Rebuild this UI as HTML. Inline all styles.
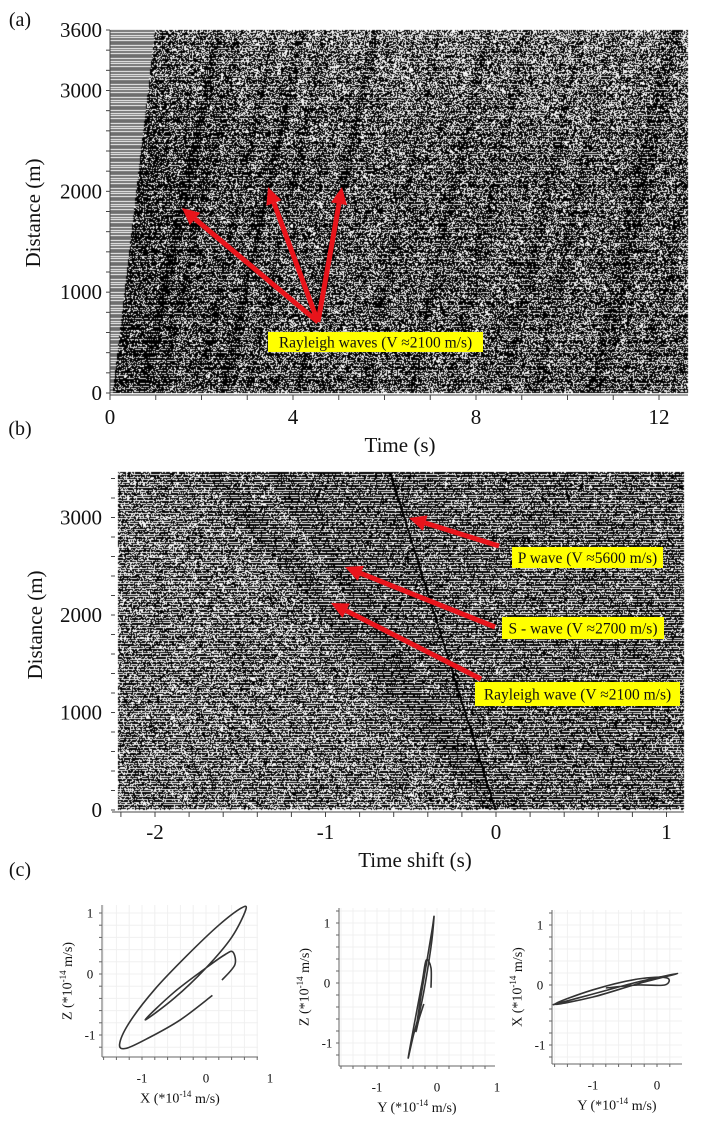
<!DOCTYPE html>
<html><head><meta charset="utf-8">
<style>
html,body{margin:0;padding:0;background:#fff;}
#wrap{position:relative;width:718px;height:1126px;overflow:hidden;background:#fff;}
canvas{position:absolute;left:0;top:0;}
svg{position:absolute;left:0;top:0;}
text{font-family:"Liberation Serif",serif;fill:#111;}
</style></head>
<body>
<div id="wrap">
<canvas id="cv" width="718" height="1126"></canvas>
<svg id="sv" width="718" height="1126" xmlns="http://www.w3.org/2000/svg"></svg>
</div>
<script>
// ---- data arrays ----
const aYTicks = [0, 1000, 2000, 3000, 3600];
const aXTicks = [0, 4, 8, 12];
const aStreakT0 = [0.69, 1.1, 1.9, 2.47, 3.0, 4.09, 5.5, 6.54, 7.4, 8.6, 9.3, 10.5, 10.7, 11.6];
const aStreakAmp = [1.0, 0.5, 0.5, 0.8, 0.5, 0.8, 0.4, 0.6, 0.4, 0.5, 0.4, 0.6, 0.6, 0.4];
const aFirstArrivalV = 3900;
const aRayleighV = 2100;
const bYTicks = [0, 1000, 2000, 3000];
const bXTicks = [-2, -1, 0, 1];
const bVelocities = [5600, 2700, 2100]; // P, S, Rayleigh
const bLabels = ["P wave (V \u22485600 m/s)", "S - wave (V \u22482700 m/s)", "Rayleigh wave (V \u22482100 m/s)"];
const c1 = [[0.1,-0.35],[-0.4,-0.75],[-0.9,-1.05],[-1.25,-1.22],[-1.35,-1.15],[-1.2,-0.8],[-0.8,-0.25],[-0.3,0.3],[0.2,0.8],[0.55,1.08],[0.62,1.05],[0.4,0.6],[0,0.1],[-0.5,-0.4],[-0.95,-0.75],[-0.5,-0.3],[0,0.1],[0.3,0.32],[0.42,0.36],[0.45,0.15],[0.25,-0.1]];
const c2 = [[-0.22,-0.35],[-0.3,-0.6],[-0.35,-0.8],[-0.28,-0.3],[-0.18,0.3],[-0.08,0.9],[-0.05,1.1],[-0.1,0.6],[-0.25,-0.3],[-0.4,-0.9],[-0.48,-1.25],[-0.4,-0.8],[-0.25,0.0],[-0.18,0.38],[-0.1,0.25],[-0.1,-0.08]];
const c3 = [[-1.63,-0.33],[-1,-0.15],[-0.3,0.05],[0.32,0.19],[-0.3,0.02],[-1.0,-0.2],[-1.6,-0.32],[-1.0,-0.08],[-0.3,0.1],[0.15,0.12],[0.12,0.0],[-0.3,0.0],[-0.8,-0.05]];
const cTicks = [-1, 0, 1];

// ---- scales ----
const A = {l:110, r:688, t:30, b:393, x:t=>110+t*45.75, y:d=>393-d*(363/3600)};
const B = {l:118, r:684, t:472, b:810, x:t=>496+t*170.5, y:d=>810-d*0.0975};

let seed = 12345;
function rnd(){seed|=0;seed=seed+0x6D2B79F5|0;let t=Math.imul(seed^seed>>>15,1|seed);t=t+Math.imul(t^t>>>7,61|t)^t;return((t^t>>>14)>>>0)/4294967296;}

const cv = document.getElementById('cv');
const ctx = cv.getContext('2d');
const img = ctx.createImageData(718,1126);
const D = img.data;
for(let i=0;i<D.length;i+=4){D[i]=D[i+1]=D[i+2]=255;D[i+3]=255;}
function setPx(x,y,v){const i=(y*718+x)*4;D[i]=D[i+1]=D[i+2]=v;}

// panel a texture
for(let Y=A.t;Y<A.b;Y++){
  const d=(A.b-Y)*3600/363;
  const ph=((Y-A.t)/2.6)%1;
  const gap=ph>0.62;
  const tFirst=0.05+d/aFirstArrivalV;
  for(let X=A.l;X<A.r;X++){
    const t=(X-A.l)/45.75;
    let v;
    if(t<tFirst){ v=gap?255:110; }
    else{
      let s=0;
      for(let k=0;k<aStreakT0.length;k++){const dt=(t-(aStreakT0[k]+d/aRayleighV))/0.09;s+=aStreakAmp[k]*Math.exp(-dt*dt);}
      let p=0.72+0.3*Math.min(1,s)+0.15*Math.exp(-(t-tFirst)/1.2)-0.15*Math.max(0,(d-2300)/1300);
      p=Math.min(0.98,p);
      v=gap?(rnd()<p*0.55?0:225):(rnd()<p?0:255);
    }
    setPx(X,Y,v);
  }
}
// panel b texture
for(let Y=B.t;Y<B.b;Y++){
  const d=(B.b-Y)/0.0975;
  const ph=((Y-B.t)/2.6)%1;
  const gap=ph>0.55;
  const tP=-d/bVelocities[0], tS=-d/bVelocities[1], tR=-d/bVelocities[2];
  for(let X=B.l;X<B.r;X++){
    const t=(X-496)/170.5;
    let p, solid=false;
    if(t<=tP+0.002 && t>tP-0.01){ p=1; solid=true; }
    else if(t>tP) p=0.85;
    else if(t>tS+0.04) p=0.8+0.18*(((X+Y*0.35)%5)<2?1:0);
    else if(t>tS-0.07) p=0.94;
    else { const dr=(t-tR)/0.1; p=0.76+0.18*Math.exp(-dr*dr); }
    if(d<500 && t<=tP && t>tR-0.05) p=Math.max(p,0.92);
    let v;
    if(solid) v=0;
    else v=gap?(rnd()<p*0.25?0:245):(rnd()<p?0:255);
    setPx(X,Y,v);
  }
}
ctx.putImageData(img,0,0);

// ---- SVG overlay ----
const NS='http://www.w3.org/2000/svg';
const sv=document.getElementById('sv');
function el(tag,attrs,parent){const e=document.createElementNS(NS,tag);for(const k in attrs)e.setAttribute(k,attrs[k]);(parent||sv).appendChild(e);return e;}
function txt(s,x,y,size,anchor,parent,rot){const e=el('text',{x:x,y:y,'font-size':size,'text-anchor':anchor||'middle','dominant-baseline':'central'},parent);if(rot)e.setAttribute('transform','rotate(-90 '+x+' '+y+')');e.textContent=s;return e;}
function line(x1,y1,x2,y2,c,w,parent){return el('line',{x1:x1,y1:y1,x2:x2,y2:y2,stroke:c,'stroke-width':w},parent);}

// panel a axes
const ga=el('g',{});


txt('(a)',20,20,20,'middle',ga);
line(A.l,A.t,A.l,A.b+2,'#444',1,ga);
line(A.l,A.b+2,A.r,A.b+2,'#444',1,ga);
for(let d=0;d<=3600;d+=200){line(A.l-4,A.y(d),A.l,A.y(d),'#444',1,ga);}
aYTicks.forEach(v=>{const lb=txt(String(v),A.l-8,A.y(v),21,'end',ga);});
for(let t=0;t<=12;t++){line(A.x(t),A.b+2,A.x(t),A.b+7,'#444',1,ga);}
aXTicks.forEach(v=>{const lb=txt(String(v),A.x(v),417,21,'middle',ga);});
const ya=txt('Distance (m)',33,213,21,'middle',ga,true);


const xa=txt('Time (s)',400,445,21,'middle',ga);



function arrow(x1,y1,x2,y2,parent,name){
  const g=el('g',{},parent);
  
  
  const dx=x2-x1,dy=y2-y1,L=Math.hypot(dx,dy),ux=dx/L,uy=dy/L,hl=17,hw=8;
  const bx=x2-ux*hl,by=y2-uy*hl;
  line(x1,y1,bx,by,'#e8141b',5,g);
  el('polygon',{points:`${x2},${y2} ${bx-uy*hw},${by+ux*hw} ${bx+uy*hw},${by-ux*hw}`,fill:'#e8141b'},g);
}
function label(s,x1,y1,x2,y2,size,parent,name){
  const g=el('g',{},parent);
  
  
  el('rect',{x:x1,y:y1,width:x2-x1,height:y2-y1,fill:'#ffff00'},g);
  txt(s,(x1+x2)/2,(y1+y2)/2+1,size,'middle',g);
}
arrow(318,322,182,208,ga,'arrow-rayleigh-1');
arrow(318,322,268,187,ga,'arrow-rayleigh-2');
arrow(318,322,342,187,ga,'arrow-rayleigh-3');
label('Rayleigh waves (V \u22482100 m/s)',268,332,483,352,15.5,ga,'rayleigh-label');

// panel b axes
const gb=el('g',{});


txt('(b)',20,429,20,'middle',gb);
line(B.l-6,B.b+2,B.r,B.b+2,'#444',1,gb);
for(let d=0;d<=3400;d+=200){line(B.l-7,B.y(d),B.l-3,B.y(d),'#444',1,gb);}
bYTicks.forEach(v=>{const lb=txt(String(v),B.l-16,B.y(v),21,'end',gb);});
for(let k=-11;k<=5;k++){const t=k*0.2;line(B.x(t),B.b+2,B.x(t),B.b+7,'#444',1,gb);}
bXTicks.forEach(v=>{const lb=txt(String(v),B.x(v),832,21,'middle',gb);});
const yb=txt('Distance (m)',35,625,21,'middle',gb,true);


const xb=txt('Time shift (s)',415,860,21,'middle',gb);


arrow(499,546,409,518,gb,'arrow-p-wave');
arrow(495,627,345,567,gb,'arrow-s-wave');
arrow(481,679,331,603,gb,'arrow-rayleigh-wave');
label(bLabels[0],512,547,663,568,15.5,gb,'p-wave-label');
label(bLabels[1],502,617,664,639,15.5,gb,'s-wave-label');
label(bLabels[2],475,682,680,706,15.5,gb,'rayleigh-wave-label');

// panel c
txt('(c)',20,870,20,'middle');
function smoothPath(P){
  let d='M'+P[0][0].toFixed(1)+' '+P[0][1].toFixed(1);
  for(let i=0;i<P.length-1;i++){
    const p0=P[Math.max(0,i-1)],p1=P[i],p2=P[i+1],p3=P[Math.min(P.length-1,i+2)];
    const c1x=p1[0]+(p2[0]-p0[0])/6,c1y=p1[1]+(p2[1]-p0[1])/6;
    const c2x=p2[0]-(p3[0]-p1[0])/6,c2y=p2[1]-(p3[1]-p1[1])/6;
    d+=` C${c1x.toFixed(1)} ${c1y.toFixed(1)} ${c2x.toFixed(1)} ${c2y.toFixed(1)} ${p2[0].toFixed(1)} ${p2[1].toFixed(1)}`;
  }
  return d;
}
function hodo(name,box,x0,sx,y0,sy,pts,xl,yl){
  const g=el('g',{});
  
  
  const xs=v=>x0+v*sx, ys=v=>y0-v*sy;
  for(let v=-1.6;v<=1.21;v+=0.2){const X=xs(v);if(X>box.l&&X<box.r)line(X,box.t,X,box.b,'#f0f0f0',1,g);}
  for(let v=-1.4;v<=1.21;v+=0.2){const Y=ys(v);if(Y>box.t&&Y<box.b)line(box.l,Y,box.r,Y,'#f0f0f0',1,g);}
  line(box.l,box.t,box.l,box.b,'#666',1,g);
  line(box.l,box.b,box.r,box.b,'#666',1,g);
  for(let v=-1.4;v<=1.21;v+=0.2){const Y=ys(v);if(Y>box.t&&Y<box.b)line(box.l-3,Y,box.l,Y,'#666',1,g);}
  for(let v=-1.6;v<=1.21;v+=0.2){const X=xs(v);if(X>box.l&&X<box.r)line(X,box.b,X,box.b+3,'#666',1,g);}
  cTicks.forEach(v=>{txt(String(v),box.l-12,ys(v),13,'middle',g);txt(String(v),xs(v),box.b+21,13,'middle',g);});
  const sp=pts.map(p=>[xs(p[0]),ys(p[1])]);
  const path=el('path',{d:smoothPath(sp),fill:'none',stroke:'#333','stroke-width':1.6,'stroke-linejoin':'round'},g);
  
  
  const xt=el('text',{x:(box.l+box.r)/2,y:box.b+42,'font-size':14,'text-anchor':'middle','dominant-baseline':'central'},g);
  xt.innerHTML=xl+' (*10<tspan dy="-5" font-size="9">-14</tspan><tspan dy="5"> m/s)</tspan>';
  
  
  const yx=box.l-34, yy=(box.t+box.b)/2;
  const yt=el('text',{x:yx,y:yy,'font-size':14,'text-anchor':'middle','dominant-baseline':'central',transform:'rotate(-90 '+yx+' '+yy+')'},g);
  yt.innerHTML=yl+' (*10<tspan dy="-5" font-size="9">-14</tspan><tspan dy="5"> m/s)</tspan>';
  
  
}
hodo('hodogram-xz',{l:102,t:905,r:258,b:1057},206,64,974,61,c1,'X','Z');
hodo('hodogram-yz',{l:339,t:908,r:495,b:1066},437,60,983,60,c2,'Y','Z');
hodo('hodogram-yx',{l:552,t:910,r:682,b:1064},657,64,985,60,c3,'Y','X');
</script>
</body></html>
